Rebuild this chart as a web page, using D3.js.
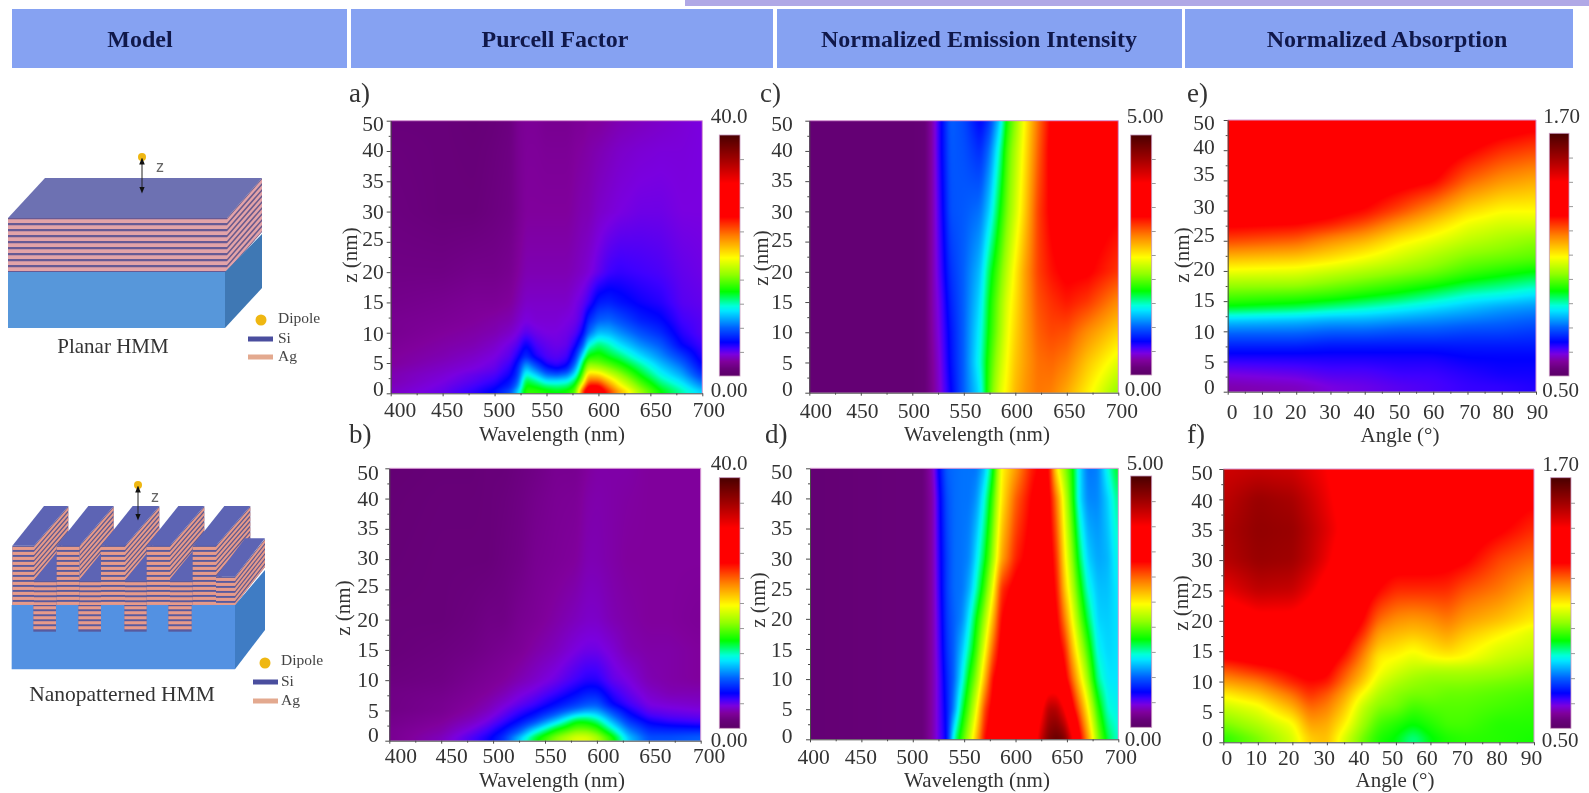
<!DOCTYPE html>
<html><head><meta charset="utf-8">
<script src="https://d3js.org/d3.v7.min.js"></script>
<style>
html,body{margin:0;padding:0;background:#fff;overflow:hidden}
svg{display:block;filter:blur(.7px)}
text{font-family:"Liberation Serif",serif}
</style></head><body>
<script>
// ---- labels ----
const headers = ["Model","Purcell Factor","Normalized Emission Intensity","Normalized Absorption"];
const wavelengthTicks = [400,450,500,550,600,650,700];
const angleTicks = [0,10,20,30,40,50,60,70,80,90];
const zTicks = [50,40,35,30,25,20,15,10,5,0];

// ---- palette (fraction of the colour bar, colour) ----
const paletteStops = [0,.03,.06,.09,.115,.14,.20,.27,.29,.35,.42,.49,.58,.66,.80,.90,1];
const paletteColors = ["#5c0068","#68007a","#80009c","#7a00e0","#4000ff","#0000ff","#0060ff","#00e8ff","#00ffdc","#00ff00","#90ff00","#ffff00","#ff8000","#ff0000","#ff0000","#a00000","#4a0000"];

// ---- a) Purcell factor, planar ----
const purcellPlanarX = [400,450,480,500,515,522,530,540,550,560,570,578,585,590,600,610,620,640,660,680,700];
const purcellPlanarZ = [0,1,2,3,4,5,6,8,10,12,15,20,30,50];
const purcellPlanar = [
[3.2,4,5,6,8,10.8,15.2,15.2,14.8,14.4,14.8,16,26.4,30,29.2,26,22.8,17.6,14.4,12.4,10.8],
[3,3.8,4.6,5.4,6.6,8.8,14.4,14,13.2,12.8,13.2,14.8,22,27.2,27.2,23.6,20.4,16.4,13.4,11.6,9.2],
[2.8,3.6,4.2,4.8,6,7.6,13.6,12.4,10.8,10.8,11.2,13.2,18,24,24,21.2,18.8,15.2,12.4,10.6,8],
[2.8,3.4,4,4.4,5.4,6.8,12,10.4,8.4,8,8.8,11.2,16,21.2,20.8,18.8,17.2,14,11.4,9.6,6.8],
[2.6,3.2,3.6,4,5,6.4,10.4,8.4,6.4,5.6,6.4,9.6,14.4,18.4,18,16.8,15.6,13,10.6,8.8,6],
[2.4,3,3.4,3.8,4.6,5.8,8.8,6.8,5,4.6,5.2,8,13.2,16.4,16,15.2,14.2,12,9.8,8,5.4],
[2.4,2.8,3.2,3.6,4.2,5.2,6.8,5.2,4.4,4.2,4.6,6.8,11.2,14.4,14.8,13.8,13,10.8,9,7.2,5],
[2.2,2.6,2.8,3.2,3.8,4.2,5.6,4.4,4,3.8,4,5.2,7.6,11.2,12.8,12,10.8,9,7.8,5.6,4.6],
[2,2.4,2.6,2.8,3.2,3.6,4.2,3.8,3.6,3.6,3.8,4.2,5.6,8,10,9.8,9,7.6,6.6,5,4.2],
[2,2.2,2.4,2.6,2.8,3.2,3.6,3.4,3.4,3.4,3.6,3.8,4.6,6.6,8,8.2,7.6,6.4,5.8,4.6,4.2],
[1.8,2,2.2,2.2,2.4,2.8,3.2,3.2,3.2,3.2,3.2,3.6,4,4.6,6.2,6.4,6,5.4,5,4.2,4],
[1.6,1.6,1.8,1.8,2,2.4,2.8,2.8,2.8,2.8,2.8,3,3.2,3.4,4,4.6,4.8,4.6,4.4,4,3.8],
[1.4,1.2,1.2,1.4,1.6,2,2.4,2.4,2.4,2.4,2.4,2.6,2.8,2.8,3.2,3.4,3.6,3.8,3.8,3.6,3.6],
[1.2,1.2,1,1.2,1.4,2,2.2,2.2,2,2,2,2.2,2.2,2.4,2.4,2.6,2.8,3,3.2,3.4,3.6]];

// ---- b) Purcell factor, nanopatterned ----
const purcellNanoX = [400,450,480,495,510,525,540,560,580,590,600,615,630,650,670,700];
const purcellNanoZ = [0,1,2,3,4,5,6,8,10,15,20,30,50];
const purcellNano = [
[2,3.2,4.6,5.6,7.2,11.2,14.4,17.6,19.6,19.6,18.4,15.6,10.8,8,8,8.4],
[2,2.8,4.2,5,6.4,8.8,12.4,15.6,18,18,16.8,13.6,9.6,7.2,7.2,7.6],
[2,2.6,3.6,4.4,5.6,7.2,10,13.6,15.6,15.6,14.8,11.6,8.4,6.4,6.2,6],
[1.8,2.4,3.2,3.8,4.8,6,7.6,10.8,14.4,14.2,13.2,10,7.2,5.6,5,4.6],
[1.8,2.2,2.8,3.4,4.2,5.2,6.2,8.4,11.6,12,11.2,8.4,6.2,4.6,4.2,4],
[1.6,2,2.6,3,3.8,4.6,5.4,6.8,8.4,9.2,9.2,7.2,5.4,4,3.8,3.6],
[1.6,2,2.4,2.8,3.4,4,4.6,5.8,7,7.6,7.8,5.6,4.6,3.6,3.4,3.2],
[1.6,1.8,2.2,2.4,2.8,3.4,3.8,4.6,5.6,6.2,6.2,4.8,4,3.2,2.8,2.8],
[1.4,1.6,2,2.2,2.4,2.8,3.2,3.8,4.6,5,5,4,3.6,2.8,2.6,2.4],
[1.2,1.4,1.6,1.8,2,2.2,2.6,3,3.6,3.8,3.8,3.4,2.8,2.6,2.6,2.4],
[1.2,1.2,1.4,1.6,1.6,2,2.2,2.6,3,3.2,3.2,2.8,2.6,2.4,2.4,2.2],
[1,1.2,1.2,1.2,1.4,1.6,2,2.2,2.4,2.8,2.8,2.6,2.4,2.4,2.4,2.4],
[.8,1,1,1.2,1.2,1.4,1.6,2,2,2.4,2.6,2.6,2.6,2.4,2.4,2.4]];

// ---- c) Emission, planar ----
const emissionPlanarX = [400,500,512,520,527,537,550,566,575,585,592,600,610,622,635,650,670,700];
const emissionPlanarZ = [0,5,10,15,20,30,40,50];
const emissionPlanar = [
[.1,.1,.13,.28,.43,.68,1,1.35,1.95,2.35,2.5,2.7,2.83,2.93,2.9,2.75,2.5,2.1],
[.1,.1,.13,.3,.45,.73,1,1.45,1.88,2.25,2.45,2.65,2.8,2.95,2.98,2.9,2.65,2.35],
[.1,.1,.13,.33,.48,.75,1,1.4,1.8,2.15,2.4,2.6,2.8,3,3.08,3.05,2.85,2.6],
[.1,.1,.13,.35,.5,.8,1,1.33,1.75,2.1,2.35,2.55,2.8,3.05,3.15,3.23,3.13,2.85],
[.1,.1,.13,.35,.55,.85,1,1.25,1.65,2,2.25,2.5,2.8,3.1,3.25,3.35,3.33,3.13],
[.1,.1,.13,.35,.6,.95,.98,1.05,1.3,1.75,2.05,2.3,2.65,3.1,3.35,3.48,3.45,3.33],
[.1,.1,.13,.35,.65,.98,.95,.83,1.05,1.5,1.93,2.2,2.55,3,3.38,3.5,3.5,3.38],
[.1,.1,.13,.35,.65,1,.93,.7,.88,1.3,1.8,2.1,2.5,2.95,3.35,3.5,3.5,3.4]];

// ---- d) Emission, nanopatterned ----
const emissionNanoX = [400,510,520,525,533,540,548,555,562,570,578,586,600,615,625,632,640,648,655,662,670,680,690,700];
const emissionNanoZ = [0,5,10,15,20,25,30,40,50];
const emissionNano = [
[.1,.15,.35,.5,.7,1.5,1.9,2.25,2.7,3.3,3.45,3.5,3.5,3.55,4.3,4.7,4.85,4.7,4.1,3.4,2.85,2.1,1.65,1.45],
[.1,.15,.35,.5,.75,1.1,1.65,2,2.4,3.1,3.4,3.5,3.5,3.5,3.9,4.4,4.4,4,3.4,3,2.5,1.85,1.45,1.4],
[.1,.15,.35,.5,.8,1,1.4,1.8,2.1,2.7,3.3,3.45,3.5,3.5,3.5,3.65,3.65,3.4,3,2.6,2.15,1.55,1.35,1.35],
[.1,.15,.35,.53,.85,1,1.25,1.55,1.9,2.4,3,3.4,3.5,3.5,3.5,3.5,3.45,3.2,2.7,2.3,1.9,1.4,1.3,1.35],
[.1,.15,.35,.55,.88,1,1.1,1.38,1.75,2.15,2.7,3.3,3.5,3.5,3.5,3.45,3.35,2.9,2.45,2.05,1.65,1.3,1.28,1.35],
[.1,.15,.35,.58,.9,1.03,1.05,1.2,1.5,1.9,2.4,3.15,3.4,3.5,3.5,3.45,3.25,2.65,2.25,1.85,1.45,1.25,1.25,1.38],
[.1,.15,.35,.6,.9,1.03,1.05,1.1,1.35,1.7,2.15,2.75,3.2,3.4,3.5,3.45,3.15,2.5,2.1,1.65,1.3,1.18,1.22,1.45],
[.1,.15,.35,.63,.95,1.03,1.05,1.05,1.13,1.45,1.9,2.5,3,3.3,3.45,3.4,2.9,2.3,1.85,1.35,1.1,1.1,1.3,1.6],
[.1,.15,.4,.7,1,1.03,1.05,1.05,1.05,1.25,1.7,2.45,2.8,3.2,3.35,3.35,2.5,2.1,1.8,1.35,1.05,1.08,1.45,1.75]];

// ---- e) Absorption, planar (one list per angle, bottom to top) ----
const absorptionPlanarX = [0,20,30,40,50,60,70,80,90];
const absorptionPlanarZ = [0,3,6,8,10,12,14,16,18,20,22,25,28,30,35,40,50];
const absorptionPlanarByAngle = [
[.57,.61,.66,.70,.75,.81,.92,.97,1.02,1.08,1.14,1.24,1.31,1.33,1.35,1.36,1.36],
[.58,.62,.66,.70,.75,.80,.90,.96,1.02,1.07,1.13,1.22,1.30,1.33,1.35,1.36,1.36],
[.60,.63,.66,.69,.74,.79,.88,.95,1.00,1.05,1.11,1.18,1.28,1.31,1.35,1.36,1.36],
[.61,.63,.66,.69,.74,.79,.86,.93,.98,1.03,1.08,1.15,1.24,1.29,1.34,1.36,1.36],
[.62,.64,.66,.69,.73,.78,.84,.91,.96,1.01,1.05,1.10,1.18,1.24,1.32,1.35,1.36],
[.63,.64,.66,.69,.73,.77,.82,.88,.94,.99,1.02,1.07,1.13,1.18,1.30,1.34,1.36],
[.64,.65,.67,.69,.72,.76,.80,.85,.91,.96,.99,1.04,1.08,1.12,1.22,1.30,1.35],
[.64,.66,.67,.69,.72,.75,.78,.84,.89,.94,.98,1.02,1.06,1.09,1.18,1.26,1.34],
[.65,.66,.67,.69,.71,.74,.77,.82,.87,.92,.97,1.00,1.06,1.09,1.16,1.24,1.32]];

// ---- f) Absorption, nanopatterned (one list per angle, bottom to top) ----
const absorptionNanoX = [0,10,20,25,30,35,40,45,50,55,60,65,70,80,90];
const absorptionNanoZ = [0,3,6,8,10,12,14,16,18,20,25,30,35,40,50];
const absorptionNanoByAngle = [
[.93,.99,1.05,1.10,1.17,1.23,1.30,1.33,1.35,1.38,1.48,1.55,1.56,1.54,1.52],
[.98,1.03,1.08,1.14,1.20,1.27,1.32,1.34,1.37,1.43,1.54,1.59,1.60,1.59,1.53],
[1.05,1.08,1.16,1.21,1.27,1.30,1.33,1.35,1.38,1.43,1.53,1.58,1.59,1.57,1.52],
[1.12,1.17,1.22,1.26,1.29,1.32,1.33,1.34,1.36,1.40,1.48,1.54,1.55,1.53,1.49],
[1.14,1.16,1.20,1.23,1.28,1.31,1.33,1.34,1.34,1.36,1.42,1.48,1.50,1.48,1.46],
[1.05,1.10,1.14,1.17,1.21,1.24,1.28,1.31,1.33,1.34,1.36,1.40,1.44,1.42,1.40],
[.98,1.02,1.05,1.09,1.14,1.17,1.20,1.23,1.27,1.30,1.34,1.36,1.38,1.38,1.36],
[.93,.96,1.00,1.03,1.06,1.09,1.10,1.14,1.17,1.21,1.29,1.33,1.34,1.34,1.34],
[.91,.94,.99,1.00,1.03,1.06,1.09,1.12,1.15,1.18,1.26,1.32,1.34,1.34,1.34],
[.86,.92,.96,.99,1.01,1.04,1.07,1.10,1.14,1.17,1.26,1.32,1.33,1.34,1.34],
[.91,.94,.97,.99,1.00,1.03,1.09,1.12,1.15,1.18,1.26,1.32,1.33,1.34,1.34],
[.93,.96,.97,.98,1.00,1.03,1.10,1.14,1.17,1.20,1.26,1.31,1.33,1.34,1.34],
[.94,.96,.97,.98,1.00,1.03,1.09,1.11,1.14,1.17,1.23,1.30,1.33,1.34,1.34],
[.94,.94,.96,.97,.99,1.02,1.05,1.07,1.10,1.14,1.20,1.24,1.30,1.33,1.34],
[.93,.94,.95,.96,.98,1.00,1.03,1.05,1.06,1.10,1.15,1.21,1.26,1.30,1.33]];

// ---- layout ----
const W = 1589, H = 793;
const headerCells = [[12,347],[351,773],[777,1182],[1185,1573]];
const headerCenters = [140,555,979,1387];
const panels = [
 {id:"a)",xs:purcellPlanarX,zs:purcellPlanarZ,g:purcellPlanar,dom:[0,40],lab:["40.0","0.00"],xTicks:wavelengthTicks,xTitle:"Wavelength (nm)",blur:2,
  box:[390.7,702.3,120.7,393.3],bar:[719.3,740,135,376],labX:[729,729],labY:[122.7,396.7],letter:[349,102],xT:[552,441],yT:[350,255],yPad:3,xPad:5.8,
  yN:[3,-1,-1,0,-3,0,-1,1,0,-5],xN:[9,4,4,0,5,5,6]},
 {id:"b)",xs:purcellNanoX,zs:purcellNanoZ,g:purcellNano,dom:[0,40],lab:["40.0","0.00"],xTicks:wavelengthTicks,xTitle:"Wavelength (nm)",blur:3,
  box:[389.3,700.7,468.3,740.7],bar:[719.3,740,477.7,728.3],labX:[729,729],labY:[470,746.7],letter:[349,443],xT:[552,787],yT:[343,608],yPad:6.5,xPad:4.4,
  yN:[4,0,-1,-1,-4,0,0,0,0,-6],xN:[11,10,5,5,6,6,8]},
 {id:"c)",xs:emissionPlanarX,zs:emissionPlanarZ,g:emissionPlanar,dom:[0,5],lab:["5.00","0.00"],xTicks:wavelengthTicks,xTitle:"Wavelength (nm)",blur:2,
  box:[809.3,1118.3,120.7,392.7],bar:[1130.7,1151.7,135,375],labX:[1145,1143],labY:[122.7,396],letter:[760,102],xT:[977,441],yT:[761,258],yPad:12.5,xPad:7.1,
  yN:[3,-1,-1,0,-2,0,0,0,0,-4],xN:[6,1,1,1,1,2,3]},
 {id:"d)",xs:emissionNanoX,zs:emissionNanoZ,g:emissionNano,dom:[0,5],lab:["5.00","0.00"],xTicks:wavelengthTicks,xTitle:"Wavelength (nm)",blur:2,
  box:[810,1118.3,468.3,739.3],bar:[1130.7,1151.7,476,727.3],labX:[1145,1143],labY:[470,746],letter:[765,443],xT:[977,787],yT:[758,600],yPad:13.5,xPad:6.5,
  yN:[3,-1,-1,0,0,0,1,0,0,-4],xN:[3,-1,-1,0,0,0,2]},
 {id:"e)",xs:absorptionPlanarX,zs:absorptionPlanarZ,g:d3.transpose(absorptionPlanarByAngle),dom:[.5,1.7],lab:["1.70","0.50"],xTicks:angleTicks,xTitle:"Angle (\u00B0)",blur:5,
  box:[1227.7,1536,120,391.7],bar:[1549.3,1569,133.3,376],labX:[1561.7,1560.7],labY:[122.7,396.7],letter:[1187,102],xT:[1400,442],yT:[1182,255],yPad:9,xPad:9.1,
  yN:[3,-3,-7,-4,-6,-2,-1,0,0,-5],xN:[4,0,-1,-1,-1,0,0,2,1,1]},
 {id:"f)",xs:absorptionNanoX,zs:absorptionNanoZ,g:d3.transpose(absorptionNanoByAngle),dom:[.5,1.7],lab:["1.70","0.50"],xTicks:angleTicks,xTitle:"Angle (\u00B0)",blur:4,
  box:[1223.3,1534,469,742.3],bar:[1550.7,1571,477.7,728.3],labX:[1560.7,1560],labY:[470.7,747.3],letter:[1187,443],xT:[1395,787],yT:[1181,603],yPad:6.5,xPad:4.8,
  yN:[4,1,0,0,0,0,0,0,0,-4],xN:[3,-2,-4,-3,-3,-4,-4,-3,-3,-3]}
];

const svg = d3.select("body").append("svg").attr("width",W).attr("height",H).attr("viewBox",[0,0,W,H]);
svg.append("rect").attr("width",W).attr("height",H).attr("fill","#fff");

// header
svg.append("rect").attr("x",685).attr("y",0).attr("width",W-685).attr("height",6).attr("fill","#b0a8e6");
svg.selectAll("rect.h").data(headerCells).join("rect").attr("class","h")
  .attr("x",d=>d[0]).attr("y",9).attr("width",d=>d[1]-d[0]).attr("height",59).attr("fill","#86a2f2");
svg.selectAll("text.h").data(headers).join("text").attr("class","h")
  .attr("x",(d,i)=>headerCenters[i]).attr("y",47).attr("text-anchor","middle")
  .attr("font-size",24).attr("font-weight","bold").attr("fill","#10184a").text(d=>d);

// colour map, bilinear reader, value smoothing
function colorOf(dom){
  return d3.scaleLinear().domain(paletteStops.map(d=>dom[0]+d*(dom[1]-dom[0]))).range(paletteColors).clamp(true);
}
function locate(arr,v){
  let i=d3.bisectRight(arr,v)-1; i=Math.max(0,Math.min(arr.length-2,i));
  let t=(v-arr[i])/(arr[i+1]-arr[i]); t=Math.max(0,Math.min(1,t));
  return [i,t];
}
function boxBlur(f,w,h,r){
  const out=new Float32Array(f.length);
  for(let y=0;y<h;y++)for(let x=0;x<w;x++){let s=0,n=0;for(let k=-r;k<=r;k++){const a=x+k;if(a>=0&&a<w){s+=f[y*w+a];n++;}}out[y*w+x]=s/n;}
  const o2=new Float32Array(f.length);
  for(let y=0;y<h;y++)for(let x=0;x<w;x++){let s=0,n=0;for(let k=-r;k<=r;k++){const a=y+k;if(a>=0&&a<h){s+=out[a*w+x];n++;}}o2[y*w+x]=s/n;}
  return o2;
}
function paint(w,h,f,color){
  const c=document.createElement("canvas");c.width=w;c.height=h;
  const ctx=c.getContext("2d"),im=ctx.createImageData(w,h);
  for(let i=0;i<w*h;i++){const q=d3.rgb(color(f[i]));im.data[4*i]=q.r;im.data[4*i+1]=q.g;im.data[4*i+2]=q.b;im.data[4*i+3]=255;}
  ctx.putImageData(im,0,0);return c.toDataURL();
}
const tickCol="#4a4a4a", textCol="#333";

panels.forEach(p=>{
  const [l,r,t,b]=p.box;
  const x=d3.scaleLinear().domain(d3.extent(p.xs)).range([l,r]);
  const y=d3.scaleLinear().domain([0,40,50]).range([b,b-(b-t)*8/9,t]);
  const w=Math.round(r-l),h=Math.round(b-t);
  let f=new Float32Array(w*h);
  for(let j=0;j<h;j++){
    const [ri,rt]=locate(p.zs,y.invert(t+(j+.5)*(b-t)/h));
    for(let i=0;i<w;i++){
      const [ci,ct]=locate(p.xs,x.invert(l+(i+.5)*(r-l)/w));
      f[j*w+i]=(1-rt)*((1-ct)*p.g[ri][ci]+ct*p.g[ri][ci+1])+rt*((1-ct)*p.g[ri+1][ci]+ct*p.g[ri+1][ci+1]);
    }
  }
  f=boxBlur(boxBlur(f,w,h,p.blur),w,h,p.blur);
  const color=colorOf(p.dom);
  svg.append("image").attr("href",paint(w,h,f,color)).attr("x",x.range()[0]).attr("y",y.range()[2]).attr("width",r-l).attr("height",b-t).attr("preserveAspectRatio","none");
  svg.append("path").attr("d",`M${l},${t}H${r}V${b}`).attr("fill","none").attr("stroke","#d79ad4").attr("stroke-width",1);

  // x axis
  const xMinor=p.xTicks.slice(0,-1).map((d,i)=>(d+p.xTicks[i+1])/2);
  svg.append("g").attr("transform",`translate(0,${b})`).call(d3.axisBottom(x).tickValues(xMinor).tickSize(2).tickFormat("")).call(g=>g.select(".domain").remove()).selectAll("line").attr("stroke",tickCol);
  const xg=svg.append("g").attr("transform",`translate(0,${b})`).call(d3.axisBottom(x).tickValues(p.xTicks).tickSize(3).tickSizeOuter(0).tickPadding(p.xPad));
  xg.select(".domain").attr("stroke",tickCol);
  xg.selectAll("line").attr("stroke",tickCol);
  xg.selectAll("text").attr("font-size",21.5).attr("font-family","Liberation Serif").attr("fill",textCol).attr("dx",(d,i)=>p.xN[i]);
  // y axis
  const yMinor=zTicks.slice(0,-1).map((d,i)=>(d+zTicks[i+1])/2);
  svg.append("g").attr("transform",`translate(${l},0)`).call(d3.axisLeft(y).tickValues(yMinor).tickSize(2).tickFormat("")).call(g=>g.select(".domain").remove()).selectAll("line").attr("stroke",tickCol);
  const yg=svg.append("g").attr("transform",`translate(${l},0)`).call(d3.axisLeft(y).tickValues(zTicks).tickSize(4).tickSizeOuter(0).tickPadding(p.yPad));
  yg.select(".domain").attr("stroke",tickCol);
  yg.selectAll("line").attr("stroke",tickCol);
  yg.selectAll("text").attr("font-size",21.5).attr("font-family","Liberation Serif").attr("fill",textCol).attr("dy",(d,i)=>`${.32*21+p.yN[i]}px`);

  // titles
  svg.append("text").attr("x",p.xT[0]).attr("y",p.xT[1]).attr("text-anchor","middle").attr("font-size",21).attr("fill",textCol).text(p.xTitle);
  svg.append("text").attr("transform",`translate(${p.yT[0]+7},${p.yT[1]}) rotate(-90)`).attr("text-anchor","middle").attr("font-size",21).attr("fill",textCol).text("z (nm)");
  svg.append("text").attr("x",p.letter[0]).attr("y",p.letter[1]).attr("font-size",27).attr("fill",textCol).text(p.id);

  // colour bar
  const [bl,br,bt,bb]=p.bar;
  const by=d3.scaleLinear().domain(p.dom).range([bb,bt]);
  const bh=Math.round(bb-bt), bf=new Float32Array(bh);
  for(let j=0;j<bh;j++) bf[j]=by.invert(bt+(j+.5)*(bb-bt)/bh);
  svg.append("image").attr("href",paint(1,bh,bf,color)).attr("x",bl).attr("y",by.range()[1]).attr("width",br-bl).attr("height",bb-bt).attr("preserveAspectRatio","none");
  svg.append("rect").attr("x",bl).attr("y",bt).attr("width",br-bl).attr("height",bb-bt).attr("fill","none").attr("stroke","#c89ac0").attr("stroke-width",.8);
  const barTicks=d3.range(1,10).map(k=>p.dom[0]+k/10*(p.dom[1]-p.dom[0]));
  const bg=svg.append("g").attr("transform",`translate(${br},0)`).call(d3.axisRight(by).tickValues(barTicks).tickSize(4).tickFormat(""));
  bg.select(".domain").remove(); bg.selectAll("line").attr("stroke","#999");
  p.lab.forEach((s,i)=>svg.append("text").attr("x",p.labX[i]).attr("y",p.labY[i]).attr("text-anchor","middle").attr("font-size",21).attr("fill",textCol).text(s));
});

// ---- schematics (diagram, not data) ----
const ink={pink:"#e3a3a8",dark:"#675a94",top:"#6d71b2",subF:"#5797da",subS:"#3f78b4",dip:"#efb712",si:"#4a4e9e",ag:"#e3a98f"};
const defs=svg.append("defs");
defs.append("marker").attr("id","ah").attr("viewBox","0 0 10 10").attr("refX",5).attr("refY",5).attr("markerWidth",7).attr("markerHeight",7).attr("orient","auto-start-reverse")
  .append("path").attr("d","M0,1L10,5L0,9Z").attr("fill","#111");
const sch=svg.append("g");
const poly=(pts,fill)=>sch.append("polygon").attr("points",pts.join(" ")).attr("fill",fill);
function stripesFront(x0,x1,y0,y1,pink,dark,pitch=6,frac=.62){
  poly([[x0,y0],[x1,y0],[x1,y1],[x0,y1]],dark);
  for(let y=y0+1.2;y<y1-1;y+=pitch) poly([[x0,y],[x1,y],[x1,Math.min(y+pitch*frac,y1)],[x0,Math.min(y+pitch*frac,y1)]],pink);
}
function stripesSide(x,y0,y1,dx,dy,pink,dark,pitch=6,frac=.62){
  poly([[x,y0],[x+dx,y0+dy],[x+dx,y1+dy],[x,y1]],dark);
  for(let y=y0+1.2;y<y1-1;y+=pitch){const e=Math.min(y+pitch*frac,y1);poly([[x,y],[x+dx,y+dy],[x+dx,e+dy],[x,e]],pink);}
}
function dipole(cx,cy,y2,zx,zy){
  sch.append("circle").attr("cx",cx).attr("cy",cy).attr("r",4).attr("fill",ink.dip);
  sch.append("line").attr("x1",cx).attr("x2",cx).attr("y1",cy+4).attr("y2",y2).attr("stroke","#222").attr("stroke-width",1).attr("marker-start","url(#ah)").attr("marker-end","url(#ah)");
  sch.append("text").attr("x",zx).attr("y",zy).attr("text-anchor","middle").attr("font-size",16).attr("style",'font-family:"Liberation Sans"').attr("fill","#666").text("z");
}
function legend(cx,cy,barX0,barX1,tx,rows){
  sch.append("circle").attr("cx",cx).attr("cy",cy).attr("r",5.5).attr("fill",ink.dip);
  sch.append("rect").attr("x",barX0).attr("y",rows[1]-2.5).attr("width",barX1-barX0).attr("height",5).attr("fill",ink.si);
  sch.append("rect").attr("x",barX0).attr("y",rows[2]-2.5).attr("width",barX1-barX0).attr("height",5).attr("fill",ink.ag);
  ["Dipole","Si","Ag"].forEach((s,i)=>sch.append("text").attr("x",tx).attr("y",rows[i]+4).attr("font-size",15.5).attr("fill","#444").text(s));
}
// planar
poly([[8,218],[45,178],[262,178],[227,218]],ink.top);
stripesSide(227,218,272,35,-40,ink.pink,"#6a5a8c");
stripesFront(8,227,218,272,ink.pink,ink.dark);
poly([[8,272],[225,272],[225,328],[8,328]],ink.subF);
poly([[225,272],[262,234],[262,288],[225,328]],ink.subS);
dipole(142,157,190,160,172);
legend(261,320,248,273,278,[319,339,357]);
sch.append("text").attr("x",113).attr("y",353).attr("text-anchor","middle").attr("font-size",21).attr("fill","#333").text("Planar HMM");
// nanopatterned (sketch measured in a 3x crop)
const P=(X,Y)=>[X/3,400+Y/3];
const nP="#e69a8a", nD="#585a9e", nT="#5d64b4";
poly([P(35,615),P(705,615),P(705,808),P(35,808)],"#5391e2");
poly([P(705,615),P(795,510),P(795,690),P(705,808)],"#3f7cc4");
[[100,168],[235,303],[373,440],[505,575]].forEach(d=>{
  stripesFront(d[0]/3,d[1]/3,400+615/3,400+695/3,nP,nD,5);
});
const fins=[[37,102],[170,238],[303,375],[440,510],[578,648]];
const lower=[[100,172],[235,307],[373,444],[505,580]];
fins.forEach((d,i)=>{
  const a=P(d[0],437),b=P(d[1],437);
  const dX=103/3, dY=-119/3;
  stripesSide(b[0],b[1],b[1]+112/3,dX,dY,nP,"#5d5890",5);
  if(i<lower.length){
    const e=lower[i];
    poly([P(e[0],543),P(e[0]+90,433),P(e[1]+90,433),P(e[1],543)],nT);
    stripesFront(e[0]/3,e[1]/3,400+543/3,400+615/3,nP,nD,5);
  }
  poly([a,P(d[0]+95,318),P(d[1]+103,318),b],nT);
  stripesFront(a[0],b[0],a[1],400+615/3,nP,nD,5);
});
poly([P(648,530),P(735,415),P(795,415),P(705,530)],nT);
stripesSide(705/3,400+530/3,400+615/3,30,-38,nP,"#5d5890",5);
stripesFront(648/3,705/3,400+530/3,400+615/3,nP,nD,5);
dipole(138,485,517,155,502);
legend(265,663,253,278,281,[661,682,701]);
sch.append("text").attr("x",122).attr("y",701).attr("text-anchor","middle").attr("font-size",21.5).attr("fill","#333").text("Nanopatterned HMM");
</script>
</body></html>
